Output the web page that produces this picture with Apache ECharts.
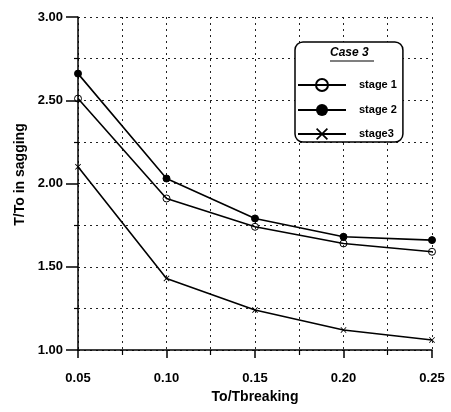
<!DOCTYPE html>
<html>
<head>
<meta charset="utf-8">
<script src="https://cdn.jsdelivr.net/npm/echarts@6/dist/echarts.min.js"></script>
<style>html,body{margin:0;padding:0;background:#fff;}#c{width:451px;height:412px;}</style>
</head>
<body>
<div id="c"></div>
<script>
var xValues = [0.05, 0.10, 0.15, 0.20, 0.25];
var stage1 = [2.51, 1.91, 1.74, 1.64, 1.59];
var stage2 = [2.66, 2.03, 1.79, 1.68, 1.66];
var stage3 = [2.10, 1.43, 1.24, 1.12, 1.06];
var seriesNames = ['stage 1', 'stage 2', 'stage3'];
var legendTitle = 'Case 3';

function pairs(ys){ return xValues.map(function(x,i){ return [x, ys[i]]; }); }

var FONT = 'Liberation Sans';
var crossPath = 'path://M0,1L1,0L5,4L9,0L10,1L6,5L10,9L9,10L5,6L1,10L0,9L4,5Z';
var gridStyle = {color:'#222', type:[2,4], width:1};

var chart = echarts.init(document.getElementById('c'), null, {renderer:'canvas'});
chart.setOption({
  backgroundColor:'#fff',
  animation:false,
  grid:{left:78, right:19, top:17, bottom:62},
  xAxis:{
    type:'value', min:0.05, max:0.25, interval:0.05,
    name:'To/Tbreaking', nameLocation:'middle', nameGap:40,
    nameTextStyle:{fontFamily:FONT, fontWeight:'bold', fontSize:14, color:'#000'},
    axisLine:{show:true, lineStyle:{color:'#000', width:1.5}},
    axisTick:{show:true, inside:false, length:8, lineStyle:{color:'#000', width:1.5}},
    minorTick:{show:true, splitNumber:2, length:5, lineStyle:{color:'#000', width:1.2}},
    axisLabel:{margin:22, fontFamily:FONT, fontWeight:'bold', fontSize:13, color:'#000',
      formatter:function(v){return v.toFixed(2);}},
    splitLine:{show:true, lineStyle:gridStyle},
    minorSplitLine:{show:true, lineStyle:gridStyle}
  },
  yAxis:{
    type:'value', min:1, max:3, interval:0.5,
    name:'T/To in sagging', nameLocation:'middle', nameGap:47,
    nameTextStyle:{fontFamily:FONT, fontWeight:'bold', fontSize:14, color:'#000', padding:[0,0,0,18]},
    axisLine:{show:true, lineStyle:{color:'#000', width:1.5}},
    axisTick:{show:true, inside:false, length:12, lineStyle:{color:'#000', width:1.5}},
    minorTick:{show:true, splitNumber:2, length:4, lineStyle:{color:'#000', width:1.2}},
    axisLabel:{margin:15, fontFamily:FONT, fontWeight:'bold', fontSize:13, color:'#000',
      formatter:function(v){return v.toFixed(2);}},
    splitLine:{show:true, lineStyle:gridStyle},
    minorSplitLine:{show:true, lineStyle:gridStyle}
  },
  legend:{
    orient:'vertical', left:295, top:42,
    data:seriesNames,
    backgroundColor:'#fff',
    borderColor:'#000', borderWidth:1.5, borderRadius:8,
    padding:[36, 6, 2, 2],
    itemWidth:48, itemHeight:15, itemGap:12,
    textStyle:{fontFamily:FONT, fontWeight:'bold', fontSize:11, color:'#000', padding:[0,0,0,8]}
  },
  graphic:[
    {type:'text', left:330, top:47, z:100,
      style:{text:legendTitle, fontFamily:FONT, fontWeight:'bold', fontStyle:'italic', fontSize:12, fill:'#000'}},
    {type:'line', z:100, shape:{x1:330, y1:61, x2:374, y2:61}, style:{stroke:'#000', lineWidth:1.2}}
  ],
  series:[
    {name:seriesNames[0], type:'line', data:pairs(stage1), symbol:'circle', symbolSize:7,
      lineStyle:{color:'#000', width:1.6}, itemStyle:{color:'rgba(0,0,0,0)', borderColor:'#000', borderWidth:1}},
    {name:seriesNames[1], type:'line', data:pairs(stage2), symbol:'circle', symbolSize:7,
      lineStyle:{color:'#000', width:1.6}, itemStyle:{color:'#000', borderColor:'#000'}},
    {name:seriesNames[2], type:'line', data:pairs(stage3), symbol:crossPath, symbolSize:6,
      lineStyle:{color:'#000', width:1.6}, itemStyle:{color:'#000'}}
  ]
});
</script>
</body>
</html>
